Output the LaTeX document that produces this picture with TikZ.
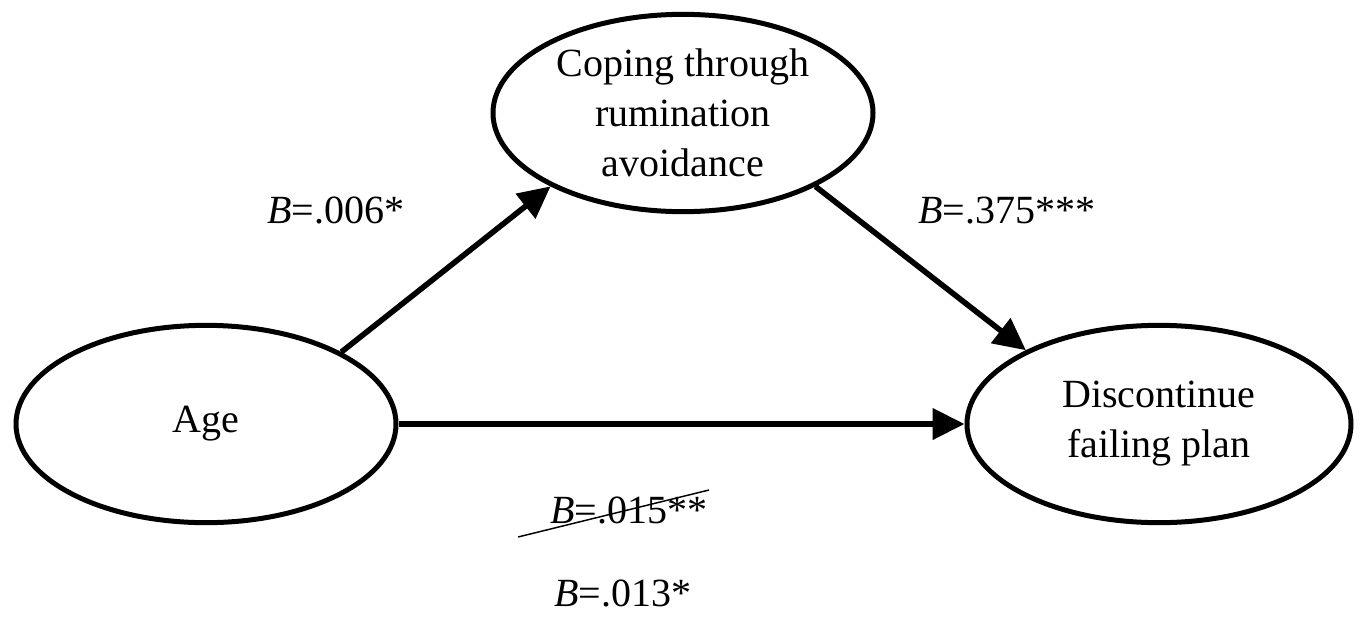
\documentclass[tikz,border=0pt]{standalone}
\usepackage{fontspec}
\setmainfont{Liberation Serif}
\usetikzlibrary{shapes.geometric,arrows.meta}
\begin{document}
\begin{tikzpicture}[x=0.75pt,y=-0.75pt,
  var/.style={ellipse,draw,line width=3.75pt,inner sep=0pt,
    minimum width=285pt,minimum height=148pt,align=center,
    font=\fontsize{30}{37.5}\selectfont},
  path/.style={line width=4.2pt,-{Triangle[length=24pt,width=23pt]}},
  coef/.style={anchor=base,inner sep=0pt,font=\fontsize{30}{37.5}\selectfont}]
\useasboundingbox (0,0) rectangle (1360,618);
\node[var] (top) at (683,113) {Coping through\\rumination\\avoidance};
\node[var] (age) at (206,424) {Age};
\node[var,minimum width=288pt] (disc) at (1159,424) {Discontinue\\failing plan};
\draw[path] (age.28) -- (top.209);
\draw[path] (top.-29) -- (disc.151.5);
\draw[path] (age.east) -- (disc.west);
\node[coef] (a) at (336,223) {\textit{B}=.006*};
\node[coef] (b) at (1007,223) {\textit{B}=.375***};
\node[coef] (c) at (629,523) {\textit{B}=.015**};
\node[coef] (d) at (623,606) {\textit{B}=.013*};
\coordinate (s1) at (518,537);
\coordinate (s2) at (709,490);
\draw[line width=1.1pt] (s1) -- (s2);
\end{tikzpicture}
\end{document}
